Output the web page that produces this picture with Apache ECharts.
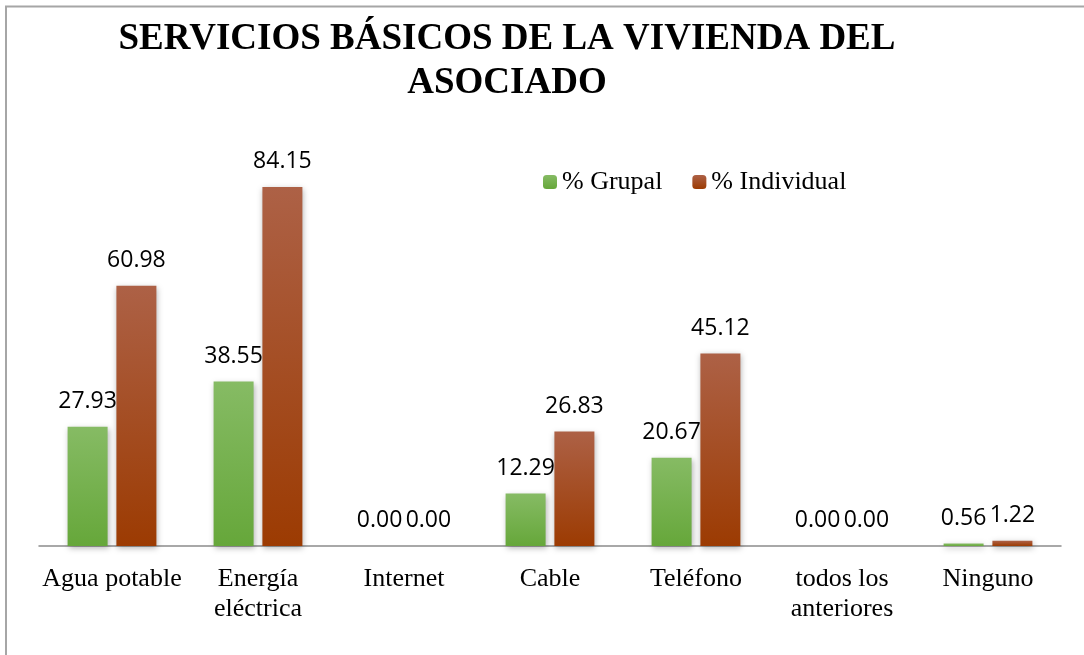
<!DOCTYPE html>
<html>
<head>
<meta charset="utf-8">
<script src="https://cdn.jsdelivr.net/npm/echarts@6/dist/echarts.min.js"></script>
<style>html,body{margin:0;padding:0;background:#fff}#c{width:1084px;height:655px}</style>
</head>
<body>
<div id="c"></div>
<script>
const categories = ['Agua potable', 'Energía\neléctrica', 'Internet', 'Cable', 'Teléfono', 'todos los\nanteriores', 'Ninguno'];
const grupal = [27.93, 38.55, 0.00, 12.29, 20.67, 0.00, 0.56];
const individual = [60.98, 84.15, 0.00, 26.83, 45.12, 0.00, 1.22];
const seriesNames = ['% Grupal', '% Individual'];
const titleText = 'SERVICIOS BÁSICOS DE LA VIVIENDA DEL\nASOCIADO';

const chart = echarts.init(document.getElementById('c'));
const grad = (a, b) => new echarts.graphic.LinearGradient(0, 0, 0, 1, [{offset: 0, color: a}, {offset: 1, color: b}]);
const labelCfg = {
  show: true, position: 'top', distance: 14,
  fontFamily: 'Open Sans, Liberation Sans, sans-serif', fontSize: 23, color: '#000',
  formatter: p => p.value.toFixed(2)
};
chart.setOption({
  animation: false,
  backgroundColor: '#fff',
  title: {
    text: titleText, left: 502, top: 12, textAlign: 'center',
    textStyle: {fontFamily: 'Liberation Serif', fontWeight: 'bold', fontSize: 37, lineHeight: 44, color: '#000'}
  },
  legend: {
    data: seriesNames, left: 538, top: 164, itemWidth: 14, itemHeight: 14, itemGap: 30,
    textStyle: {fontFamily: 'Liberation Serif', fontSize: 26, color: '#000'}
  },
  grid: {left: 39, right: 23, top: 162, bottom: 109, containLabel: false},
  xAxis: {
    type: 'category', data: categories,
    axisLine: {lineStyle: {color: '#8c8c8c', width: 1.5}},
    axisTick: {show: false},
    axisLabel: {interval: 0, margin: 18, fontFamily: 'Liberation Serif', fontSize: 26, lineHeight: 30, color: '#000'}
  },
  yAxis: {type: 'value', min: 0, max: 90, show: false, splitLine: {show: false}},
  series: [
    {name: seriesNames[0], type: 'bar', data: grupal, barWidth: 40, barGap: '22%',
     itemStyle: {color: grad('#86bb64', '#66a73a'), shadowColor: 'rgba(0,0,0,0.3)', shadowBlur: 6, shadowOffsetX: 1, shadowOffsetY: 2},
     label: labelCfg},
    {name: seriesNames[1], type: 'bar', data: individual, barWidth: 40,
     itemStyle: {color: grad('#ad6146', '#9c3b02'), shadowColor: 'rgba(0,0,0,0.3)', shadowBlur: 6, shadowOffsetX: 1, shadowOffsetY: 2},
     label: labelCfg}
  ],
  graphic: [
    {type: 'line', shape: {x1: 5, y1: 6.5, x2: 1084, y2: 6.5}, style: {stroke: '#a6a6a6', lineWidth: 2}},
    {type: 'line', shape: {x1: 6, y1: 6, x2: 6, y2: 655}, style: {stroke: '#a6a6a6', lineWidth: 2}}
  ]
});
</script>
</body>
</html>
